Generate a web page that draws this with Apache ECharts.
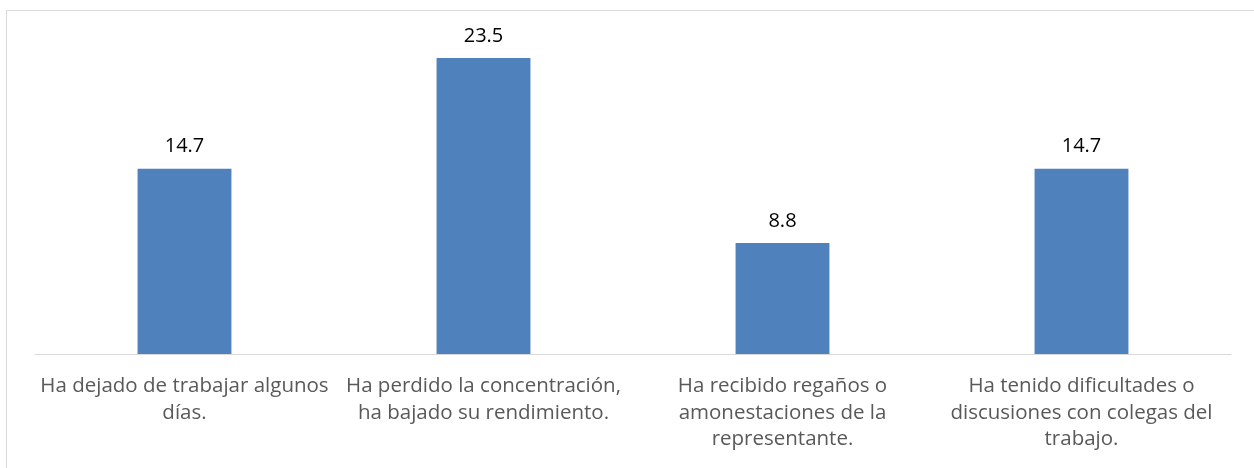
<!DOCTYPE html>
<html>
<head>
<meta charset="utf-8">
<script src="https://cdn.jsdelivr.net/npm/echarts@6/dist/echarts.min.js"></script>
<style>
  html, body { margin: 0; padding: 0; background: #fff; }
  #chart { width: 1254px; height: 468px; }
</style>
</head>
<body>
<div id="chart"></div>
<script>
let categories = [
  'Ha dejado de trabajar algunos\ndías.',
  'Ha perdido la concentración,\nha bajado su rendimiento.',
  'Ha recibido regaños o\namonestaciones de la\nrepresentante.',
  'Ha tenido dificultades o\ndiscusiones con colegas del\ntrabajo.'
];
let values = [14.7, 23.5, 8.8, 14.7];

let myChart = echarts.init(document.getElementById('chart'));
let options = {
  animation: false,
  textStyle: { fontFamily: 'Open Sans' },
  graphic: [{
    type: 'rect',
    shape: { x: 6.5, y: 10.5, width: 1300, height: 600 },
    style: { fill: 'none', stroke: '#d9d9d9', lineWidth: 1 },
    silent: true
  }],
  grid: { left: 35, right: 23, top: 39, bottom: 114 },
  xAxis: {
    type: 'category',
    data: categories,
    axisLine: { lineStyle: { color: '#d9d9d9', width: 1 } },
    axisTick: { show: false },
    axisLabel: {
      color: '#595959',
      fontSize: 20.5,
      lineHeight: 26.5,
      margin: 19,
      interval: 0,
      align: 'center'
    }
  },
  yAxis: {
    type: 'value',
    min: 0,
    max: 25,
    show: false
  },
  series: [{
    type: 'bar',
    data: values,
    barWidth: '31.4%',
    itemStyle: { color: '#4f81bd' },
    label: {
      show: true,
      position: 'top',
      distance: 12,
      color: '#000',
      fontSize: 20
    }
  }]
};
myChart.setOption(options);
</script>
</body>
</html>
